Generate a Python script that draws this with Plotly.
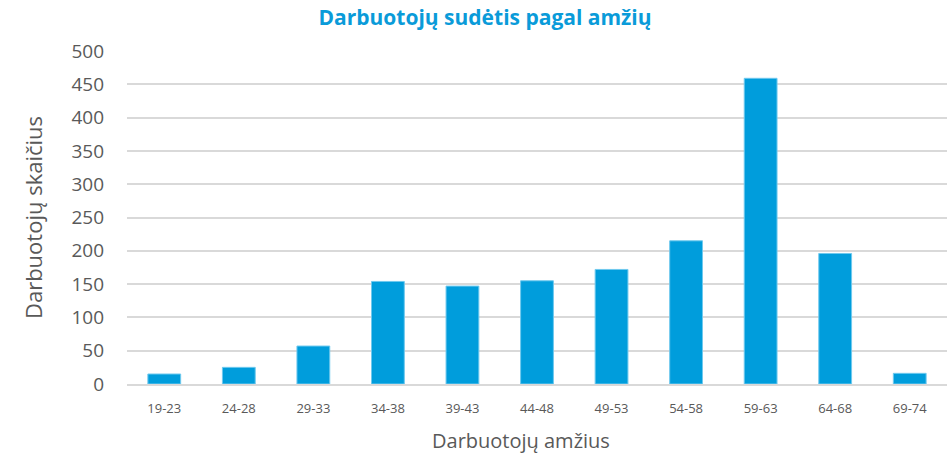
import plotly.graph_objects as go

categories = ["19-23", "24-28", "29-33", "34-38", "39-43", "44-48", "49-53", "54-58", "59-63", "64-68", "69-74"]
values = [15, 25, 57, 154, 147, 155, 172, 215, 459, 196, 16]
y_ticks = [0, 50, 100, 150, 200, 250, 300, 350, 400, 450, 500]

FONT = "Open Sans"
fig = go.Figure()
fig.add_trace(go.Bar(
    x=categories, y=values,
    marker=dict(color="#009DDC", line=dict(color="#6FC9EE", width=1)),
    hoverinfo="x+y",
))
fig.update_layout(
    width=951, height=459,
    margin=dict(l=127, r=4, t=51, b=75),
    paper_bgcolor="white", plot_bgcolor="white",
    bargap=0.56,
    showlegend=False,
    title=dict(text="<b>Darbuotojų sudėtis pagal amžių</b>", x=0.51, xanchor="center",
               y=0.962, yanchor="middle",
               font=dict(family=FONT, size=21, color="#0A9BD9")),
    font=dict(family=FONT, color="#595959"),
)
fig.update_yaxes(
    range=[0, 500], tickvals=y_ticks, showgrid=True, gridcolor="#D9D9D9", gridwidth=1.5,
    zeroline=False, showline=False, ticks="",
    tickfont=dict(size=19, color="#595959", family=FONT),
    ticklabelstandoff=22,
    title=dict(text="Darbuotojų skaičius", font=dict(size=22, color="#595959", family=FONT), standoff=22),
)
fig.update_xaxes(
    showgrid=False, showline=True, linecolor="#D9D9D9", linewidth=1.5, ticks="",
    tickfont=dict(size=13, color="#595959", family=FONT),
    ticklabelstandoff=12,
)
fig.add_annotation(text="Darbuotojų amžius", xref="paper", yref="paper", x=0.48, y=-0.17,
                   xanchor="center", yanchor="middle", showarrow=False,
                   font=dict(size=20, color="#595959", family=FONT))
fig.write_html("out.html", config={"displayModeBar": False},
               post_script="document.body.style.margin='0';")
